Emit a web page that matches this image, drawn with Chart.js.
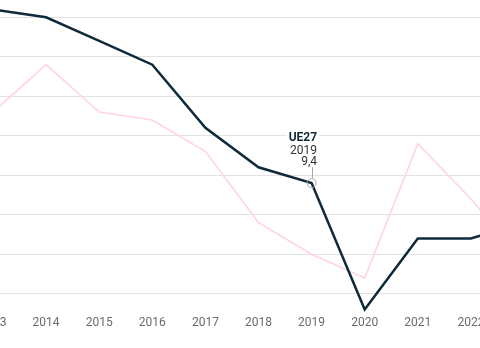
<!DOCTYPE html>
<html>
<head>
<meta charset="utf-8">
<script src="https://cdn.jsdelivr.net/npm/chart.js@4"></script>
<style>
html,body{margin:0;padding:0;overflow:hidden;background:#fff;width:480px;height:348px;}
#wrap{position:absolute;left:-7px;top:0;width:531px;height:348px;}
</style>
</head>
<body>
<div id="wrap"><canvas id="c"></canvas></div>
<script>
const years = ['2013','2014','2015','2016','2017','2018','2019','2020','2021','2022','2023'];
const ue27 = [11.6, 11.5, 11.2, 10.9, 10.1, 9.6, 9.4, 7.8, 8.7, 8.7, 8.9];
const country = [10.3, 10.9, 10.3, 10.2, 9.8, 8.9, 8.5, 8.2, 9.9, 9.2, 8.4];
const yTicks = [8, 8.5, 9, 9.5, 10, 10.5, 11, 11.5];
const annotLabel = 'UE27';
const annotYear = '2019';
const annotValue = '9,4';

const annotPlugin = {
  id: 'annot',
  afterDatasetsDraw(chart) {
    const meta = chart.getDatasetMeta(0);
    const idx = years.indexOf(annotYear);
    const pt = meta.data[idx];
    const ctx = chart.ctx;
    const x = pt.x, y = pt.y;
    ctx.save();
    ctx.strokeStyle = '#a8a8a8';
    ctx.lineWidth = 1;
    ctx.beginPath();
    ctx.moveTo(Math.round(x) + 0.5, y - 16);
    ctx.lineTo(Math.round(x) + 0.5, y - 5);
    ctx.stroke();
    ctx.beginPath();
    ctx.arc(x, y, 4.5, 0, Math.PI * 2);
    ctx.stroke();
    const tx = x + 5.5;
    ctx.textAlign = 'right';
    ctx.textBaseline = 'alphabetic';
    ctx.font = 'bold 12px Roboto';
    const w = ctx.measureText(annotLabel).width;
    ctx.fillStyle = '#ffffff';
    ctx.fillRect(tx - w - 2, y - 53, w + 4, 14);
    ctx.fillStyle = '#0e2a3b';
    ctx.fillText(annotLabel, tx, y - 42);
    ctx.font = '12px Roboto';
    ctx.fillStyle = '#333333';
    ctx.fillText(annotYear, tx, y - 29);
    ctx.fillText(annotValue, tx, y - 18);
    ctx.restore();
  }
};

new Chart(document.getElementById('c'), {
  type: 'line',
  data: {
    labels: years,
    datasets: [
      { label: 'UE27', data: ue27, borderColor: '#0e2a3b', borderWidth: 2.5, pointRadius: 0, tension: 0, fill: false },
      { label: 'País', data: country, borderColor: '#ffd6dc', borderWidth: 1.6, pointRadius: 0, tension: 0, fill: false }
    ]
  },
  options: {
    responsive: true,
    maintainAspectRatio: false,
    animation: false,
    layout: { padding: { left: 0, right: 0, top: 0, bottom: 15 } },
    plugins: { legend: { display: false }, tooltip: { enabled: false } },
    scales: {
      x: {
        type: 'category',
        offset: false,
        grid: { display: false, drawTicks: false },
        border: { display: false },
        ticks: { color: '#6b6b6b', font: { family: 'Roboto', size: 12 }, padding: 3, maxRotation: 0, autoSkip: false },
        afterFit(s) { s.paddingLeft = 0; s.paddingRight = 0; }
      },
      y: {
        min: 7.76,
        max: 11.719,
        grid: { color: '#e2e2e2', lineWidth: 1, drawTicks: false },
        border: { display: false },
        ticks: { display: false },
        afterBuildTicks(s) { s.ticks = yTicks.map(v => ({ value: v })); },
        afterFit(s) { s.width = 0; s.paddingTop = 0; s.paddingBottom = 0; }
      }
    }
  },
  plugins: [annotPlugin]
});
</script>
</body>
</html>
